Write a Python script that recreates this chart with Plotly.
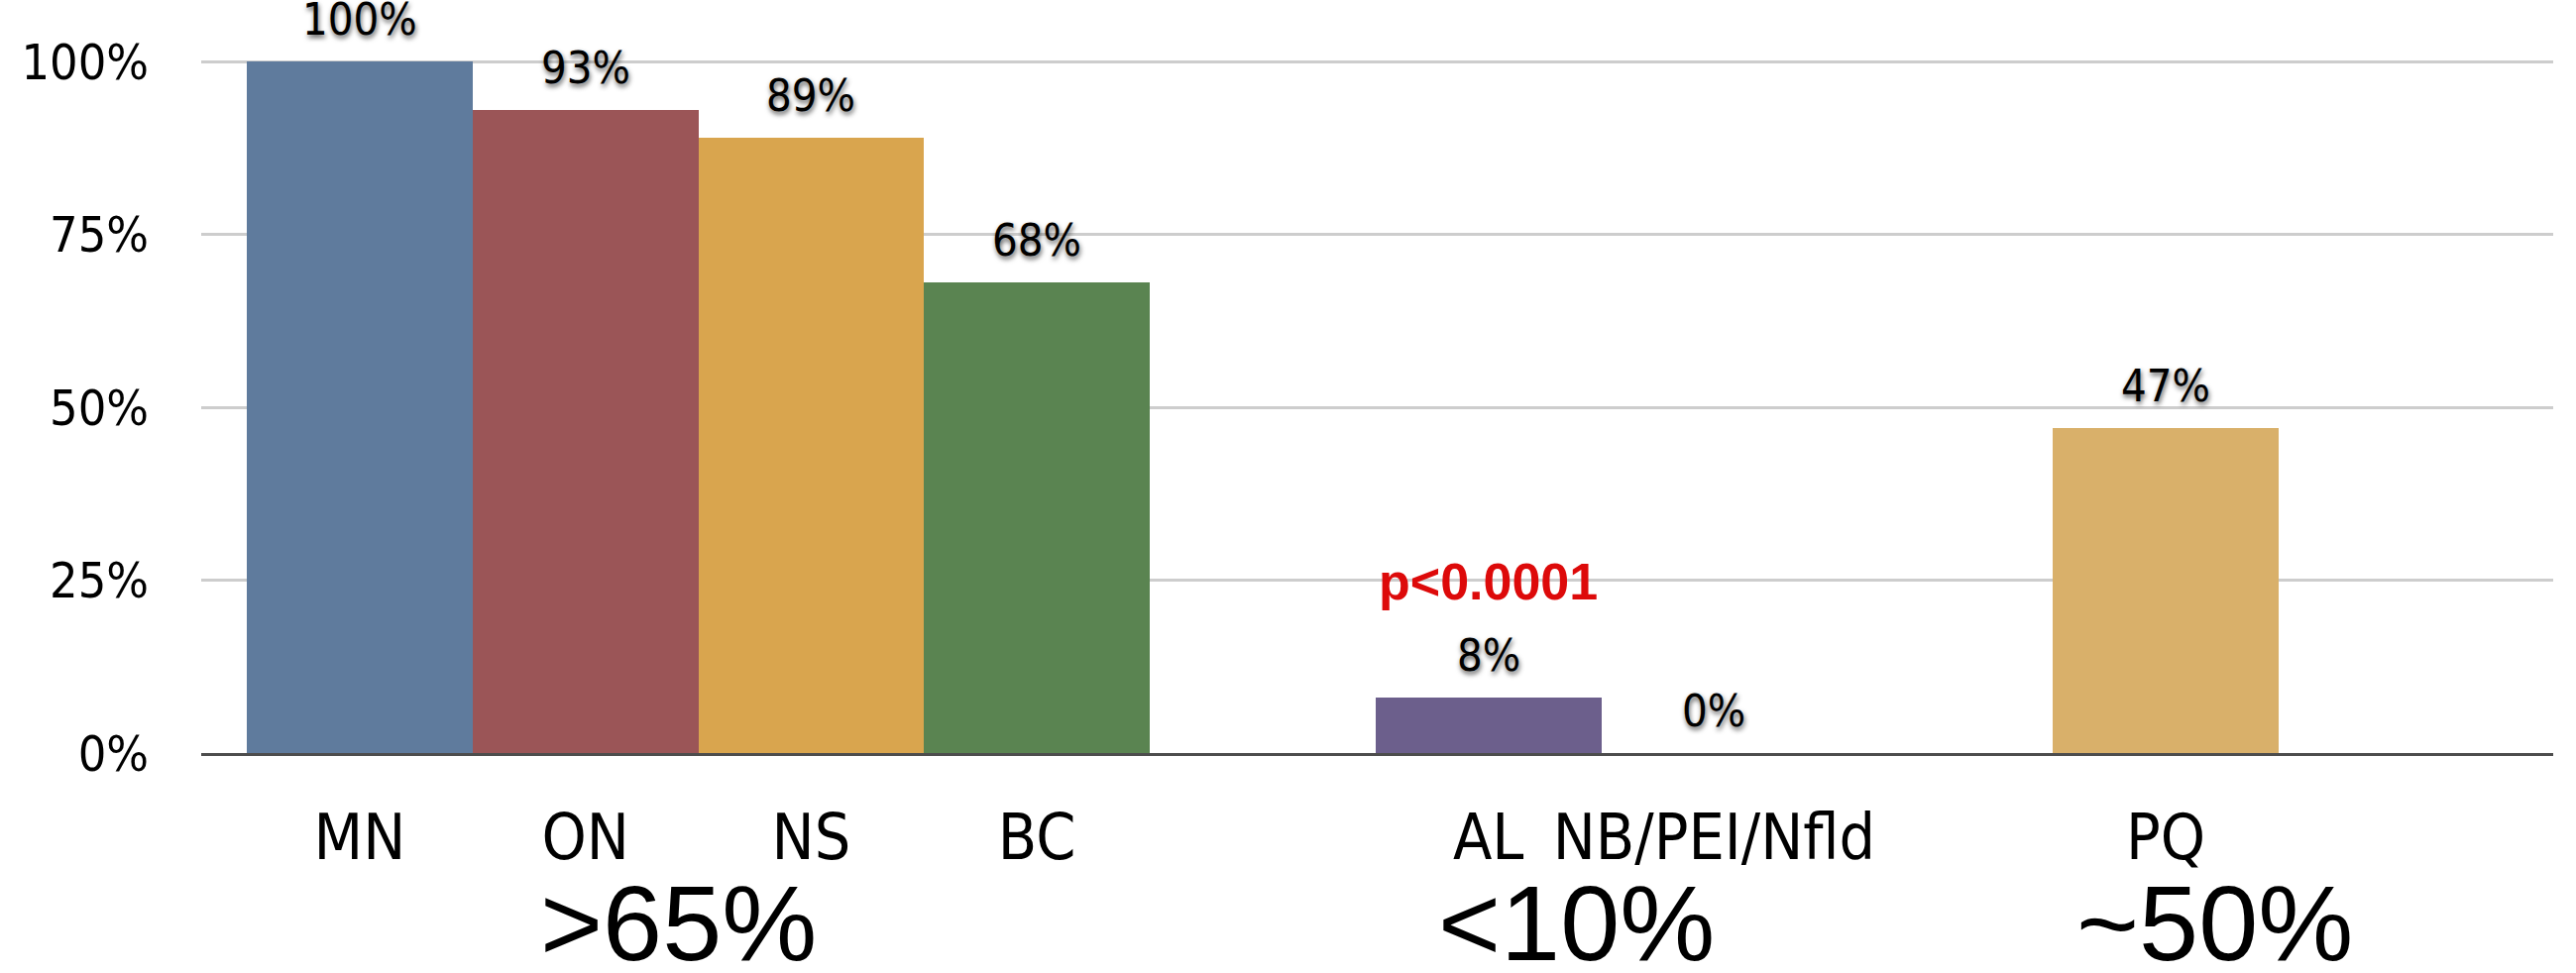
import plotly.graph_objects as go

# ---- data -------------------------------------------------------------
groups = [">65%", "<10%", "~50%"]
group_regions = [["MN", "ON", "NS", "BC"], ["AL", "NB/PEI/Nfld"], ["PQ"]]
group_values = [[100, 93, 89, 68], [8, 0], [47]]
y_tick_values = [0, 25, 50, 75, 100]
y_tick_labels = ["0%", "25%", "50%", "75%", "100%"]
p_value_text = "p<0.0001"
p_value_region = "AL"

# ---- styles -----------------------------------------------------------
group_colors = [["#5f7b9d", "#9b5557", "#d9a54e", "#5a8451"],
                ["#6c5f8c", "#8a8a8a"],
                ["#d9b06a"]]
GROUP_LABEL_SHIFT = [-20, -25, 50]
NARROW = "Liberation Sans Narrow, Arial Narrow, DejaVu Sans Condensed, sans-serif"
ARIAL = "Liberation Sans, Arial, sans-serif"

# Lay the bars out side by side, one empty slot between groups
xs, labels, values, colors, centers = [], [], [], [], []
pos = 0
for regs, vals, cols in zip(group_regions, group_values, group_colors):
    start = pos
    for r, v, c in zip(regs, vals, cols):
        xs.append(pos)
        labels.append(r)
        values.append(v)
        colors.append(c)
        pos += 1
    centers.append((start + pos - 1) / 2)
    pos += 1

fig = go.Figure()
fig.add_bar(
    x=xs, y=values, width=1,
    marker=dict(color=colors, line=dict(width=0)),
    hoverinfo="skip",
)

annotations = []
# value labels above each bar
for x, v in zip(xs, values):
    annotations.append(dict(
        x=x, y=v, xref="x", yref="y", text=f"{v}%", showarrow=False,
        yanchor="bottom", yshift=14,
        font=dict(family=NARROW, size=45, color="black",
                  shadow="1px 3px 5px rgba(0,0,0,0.65)"),
    ))

# significance note over the AL bar
i_p = labels.index(p_value_region)
annotations.append(dict(
    x=xs[i_p], y=values[i_p], xref="x", yref="y", text=f"<b>{p_value_text}</b>",
    showarrow=False, yanchor="middle", yshift=117,
    font=dict(family=ARIAL, size=52, color="#dd0a0a"),
))

# group summary labels under the axis
for c, g, sh in zip(centers, groups, GROUP_LABEL_SHIFT):
    annotations.append(dict(
        x=c, y=0, xref="x", yref="y", text=g, showarrow=False,
        yanchor="middle", yshift=-171, xshift=sh,
        font=dict(family=ARIAL, size=108, color="black"),
    ))

fig.update_layout(
    width=2599, height=982,
    margin=dict(l=203, r=23, t=0, b=222),
    paper_bgcolor="white", plot_bgcolor="white",
    showlegend=False,
    bargap=0,
    annotations=annotations,
    xaxis=dict(
        range=[-0.702, 9.717],
        tickmode="array", tickvals=xs, ticktext=labels,
        showgrid=False, zeroline=False,
        showline=True, linecolor="#4d4d4d", linewidth=3,
        ticks="", ticklabelstandoff=27, tickangle=0, automargin=False,
        tickfont=dict(family=NARROW, size=64, color="black"),
    ),
    yaxis=dict(
        range=[0, 108.9],
        tickmode="array", tickvals=y_tick_values, ticktext=y_tick_labels,
        showgrid=True, gridcolor="#cdcdcd", gridwidth=3,
        zeroline=False, showline=False, automargin=False,
        ticks="", ticklabelstandoff=52,
        tickfont=dict(family=NARROW, size=50, color="black"),
    ),
)

fig.write_html("out.html")
